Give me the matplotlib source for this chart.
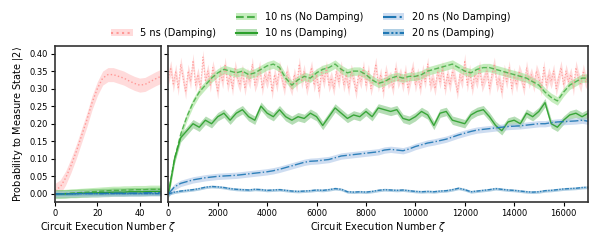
import matplotlib

matplotlib.use("Agg")

import matplotlib.pyplot as plt
import numpy as np
from matplotlib.lines import Line2D
from matplotlib.patches import Patch

plt.rcParams["font.family"] = "DejaVu Sans"

# ---- short window (first 50 executions) ----
x_short = np.arange(0, 50.1, 2.5)
pink_short = [0.010, 0.020, 0.045, 0.080, 0.120, 0.165, 0.210, 0.260, 0.300, 0.330,
              0.340, 0.340, 0.335, 0.330, 0.322, 0.315, 0.310, 0.312, 0.320, 0.328, 0.335]
green_nd_short = [0.000, 0.000, 0.001, 0.002, 0.003, 0.004, 0.005, 0.006, 0.007, 0.008,
                  0.009, 0.010, 0.010, 0.011, 0.011, 0.012, 0.012, 0.012, 0.013, 0.013, 0.013]
green_d_short = [0.000, 0.000, 0.000, 0.001, 0.001, 0.002, 0.002, 0.003, 0.003, 0.004,
                 0.004, 0.005, 0.005, 0.005, 0.006, 0.006, 0.006, 0.006, 0.007, 0.007, 0.007]
blue_nd_short = [0.000, 0.000, 0.000, 0.000, 0.001, 0.001, 0.001, 0.001, 0.001, 0.001,
                 0.002, 0.002, 0.002, 0.002, 0.002, 0.002, 0.002, 0.003, 0.003, 0.003, 0.003]
blue_d_short = [0.000, 0.000, 0.000, 0.000, 0.000, 0.001, 0.001, 0.001, 0.001, 0.001,
                0.001, 0.001, 0.001, 0.001, 0.001, 0.001, 0.001, 0.001, 0.001, 0.001, 0.001]

# ---- long window ----
x_pink = np.arange(0, 17001, 100)
pink_long = [
    0.33, 0.36, 0.31, 0.35, 0.30, 0.37, 0.33, 0.29, 0.35, 0.32,
    0.38, 0.31, 0.34, 0.30, 0.39, 0.32, 0.35, 0.31, 0.36, 0.33,
    0.29, 0.35, 0.32, 0.37, 0.31, 0.34, 0.30, 0.36, 0.33, 0.31,
    0.35, 0.30, 0.34, 0.32, 0.37, 0.31, 0.33, 0.36, 0.30, 0.34,
    0.32, 0.35, 0.29, 0.34, 0.31, 0.36, 0.33, 0.30, 0.35, 0.32,
    0.30, 0.34, 0.31, 0.37, 0.32, 0.35, 0.30, 0.33, 0.36, 0.31,
    0.34, 0.29, 0.35, 0.32, 0.36, 0.31, 0.33, 0.30, 0.35, 0.32,
    0.36, 0.31, 0.34, 0.30, 0.35, 0.33, 0.29, 0.34, 0.32, 0.36,
    0.31, 0.35, 0.30, 0.33, 0.37, 0.31, 0.34, 0.29, 0.35, 0.32,
    0.33, 0.30, 0.36, 0.32, 0.34, 0.31, 0.35, 0.30, 0.33, 0.36,
    0.31, 0.34, 0.30, 0.35, 0.32, 0.37, 0.31, 0.33, 0.30, 0.35,
    0.32, 0.36, 0.30, 0.34, 0.31, 0.35, 0.33, 0.29, 0.34, 0.32,
    0.38, 0.31, 0.35, 0.30, 0.34, 0.32, 0.36, 0.31, 0.33, 0.35,
    0.30, 0.34, 0.37, 0.31, 0.33, 0.29, 0.35, 0.32, 0.36, 0.30,
    0.34, 0.31, 0.35, 0.33, 0.30, 0.36, 0.32, 0.34, 0.31, 0.35,
    0.33, 0.30, 0.36, 0.31, 0.34, 0.32, 0.35, 0.30, 0.33, 0.36,
    0.31, 0.35, 0.32, 0.34, 0.30, 0.36, 0.33, 0.31, 0.35, 0.32,
    0.34,
]

x_long = np.arange(0, 17001, 250)
green_nd_long = [
    0.000, 0.100, 0.170, 0.220, 0.260, 0.290, 0.310, 0.330, 0.345, 0.355,
    0.350, 0.345, 0.350, 0.340, 0.345, 0.355, 0.365, 0.370, 0.360, 0.330,
    0.310, 0.325, 0.335, 0.330, 0.345, 0.355, 0.360, 0.370, 0.355, 0.345,
    0.350, 0.350, 0.340, 0.325, 0.315, 0.320, 0.330, 0.335, 0.330, 0.335,
    0.335, 0.340, 0.350, 0.355, 0.360, 0.365, 0.370, 0.360, 0.350, 0.345,
    0.355, 0.360, 0.360, 0.355, 0.350, 0.345, 0.340, 0.335, 0.330, 0.320,
    0.310, 0.290, 0.275, 0.265, 0.290, 0.310, 0.320, 0.330, 0.330,
]
green_d_long = [
    0.000, 0.100, 0.160, 0.180, 0.200, 0.190, 0.210, 0.200, 0.220, 0.230,
    0.210, 0.230, 0.240, 0.220, 0.210, 0.250, 0.230, 0.220, 0.240, 0.220,
    0.210, 0.220, 0.215, 0.230, 0.220, 0.195, 0.220, 0.245, 0.230, 0.215,
    0.225, 0.220, 0.235, 0.220, 0.245, 0.240, 0.235, 0.240, 0.215, 0.210,
    0.220, 0.235, 0.225, 0.195, 0.230, 0.235, 0.210, 0.205, 0.200, 0.225,
    0.235, 0.240, 0.220, 0.195, 0.180, 0.205, 0.210, 0.200, 0.230, 0.220,
    0.235, 0.260, 0.200, 0.190, 0.210, 0.225, 0.230, 0.220, 0.230,
]
blue_nd_long = [
    0.000, 0.020, 0.030, 0.035, 0.040, 0.043, 0.046, 0.048, 0.050, 0.051,
    0.052, 0.053, 0.055, 0.057, 0.059, 0.061, 0.063, 0.066, 0.070, 0.075,
    0.080, 0.085, 0.090, 0.093, 0.094, 0.096, 0.098, 0.103, 0.108, 0.110,
    0.112, 0.114, 0.116, 0.118, 0.120, 0.125, 0.127, 0.125, 0.123, 0.128,
    0.135, 0.140, 0.145, 0.148, 0.152, 0.156, 0.162, 0.168, 0.173, 0.178,
    0.182, 0.184, 0.186, 0.188, 0.190, 0.192, 0.193, 0.194, 0.196, 0.198,
    0.200, 0.200, 0.203, 0.205, 0.206, 0.207, 0.208, 0.210, 0.207,
]
blue_d_long = [
    0.000, 0.005, 0.008, 0.010, 0.012, 0.015, 0.019, 0.021, 0.020, 0.018,
    0.015, 0.013, 0.012, 0.011, 0.013, 0.012, 0.010, 0.011, 0.012, 0.010,
    0.008, 0.007, 0.008, 0.009, 0.011, 0.010, 0.012, 0.015, 0.013, 0.006,
    0.005, 0.006, 0.005, 0.007, 0.010, 0.012, 0.011, 0.010, 0.011, 0.009,
    0.007, 0.006, 0.007, 0.006, 0.008, 0.009, 0.012, 0.016, 0.012, 0.006,
    0.008, 0.010, 0.012, 0.015, 0.013, 0.011, 0.010, 0.008, 0.006, 0.005,
    0.006, 0.009, 0.010, 0.012, 0.014, 0.015, 0.016, 0.018, 0.019,
]

labels = ["5 ns (Damping)", "10 ns (No Damping)", "10 ns (Damping)",
          "20 ns (No Damping)", "20 ns (Damping)"]
band = [0.020, 0.012, 0.012, 0.009, 0.004]

styles = [
    dict(color="#ff9896", ls=":", fill="#ffb0b0", falpha=0.45, lw=0.8),
    dict(color="#4cb04a", ls="--", fill="#98df8a", falpha=0.55, lw=1.0),
    dict(color="#2ca02c", ls="-", fill="#2ca02c", falpha=0.35, lw=1.0),
    dict(color="#1f77b4", ls="-.", fill="#aec7e8", falpha=0.6, lw=1.0),
    dict(color="#1f77b4", ls=(0, (3, 1, 1, 1, 1, 1)), fill="#1f77b4", falpha=0.35, lw=1.0),
]

short_series = [pink_short, green_nd_short, green_d_short, blue_nd_short, blue_d_short]
long_series = [(x_pink, pink_long), (x_long, green_nd_long), (x_long, green_d_long),
               (x_long, blue_nd_long), (x_long, blue_d_long)]

fig = plt.figure(figsize=(5.98, 2.40), dpi=100)
ax1 = fig.add_axes([0.092, 0.160, 0.177, 0.649])
ax2 = fig.add_axes([0.2815, 0.160, 0.7022, 0.649])

for s, y, b in zip(styles, short_series, band):
    y = np.asarray(y)
    ax1.fill_between(x_short, y - b, y + b, color=s["fill"], alpha=s["falpha"], lw=0)
    ax1.plot(x_short, y, color=s["color"], ls=s["ls"], lw=1)

for s, (x, y), b in zip(styles, long_series, band):
    y = np.asarray(y)
    ax2.fill_between(x, y - b, y + b, color=s["fill"], alpha=s["falpha"], lw=0)
    ax2.plot(x, y, color=s["color"], ls=s["ls"], lw=s["lw"], alpha=0.9)

for ax in (ax1, ax2):
    ax.set_ylim(-0.022, 0.422)
    ax.set_yticks(np.arange(0, 0.41, 0.05))
    ax.tick_params(labelsize=6, length=3, width=0.8, pad=2)
    for sp in ax.spines.values():
        sp.set_color("#333333")
        sp.set_linewidth(1.2)
    ax.set_xlabel("Circuit Execution Number $\\zeta$", fontsize=7, labelpad=2)

ax1.set_xlim(0, 50)
ax1.set_xticks([0, 20, 40])
ax2.set_xlim(0, 17000)
ax2.set_xticks(np.arange(0, 16001, 2000))
ax2.set_yticklabels([])
ax1.set_ylabel("Probability to Measure State $|2\\rangle$", fontsize=7, labelpad=3)

handles = [Line2D([], [], color="none")]
for s in styles:
    handles.append((Patch(facecolor=s["fill"], alpha=s["falpha"], lw=0),
                    Line2D([], [], color=s["color"], ls=s["ls"], lw=1.5)))
fig.legend(handles, [""] + labels, loc="center", bbox_to_anchor=(0.52, 0.895),
           ncol=3, frameon=False, fontsize=7, handlelength=2.2,
           handletextpad=0.8, columnspacing=2.0, labelspacing=0.6)

fig.savefig("out.png", dpi=100)
